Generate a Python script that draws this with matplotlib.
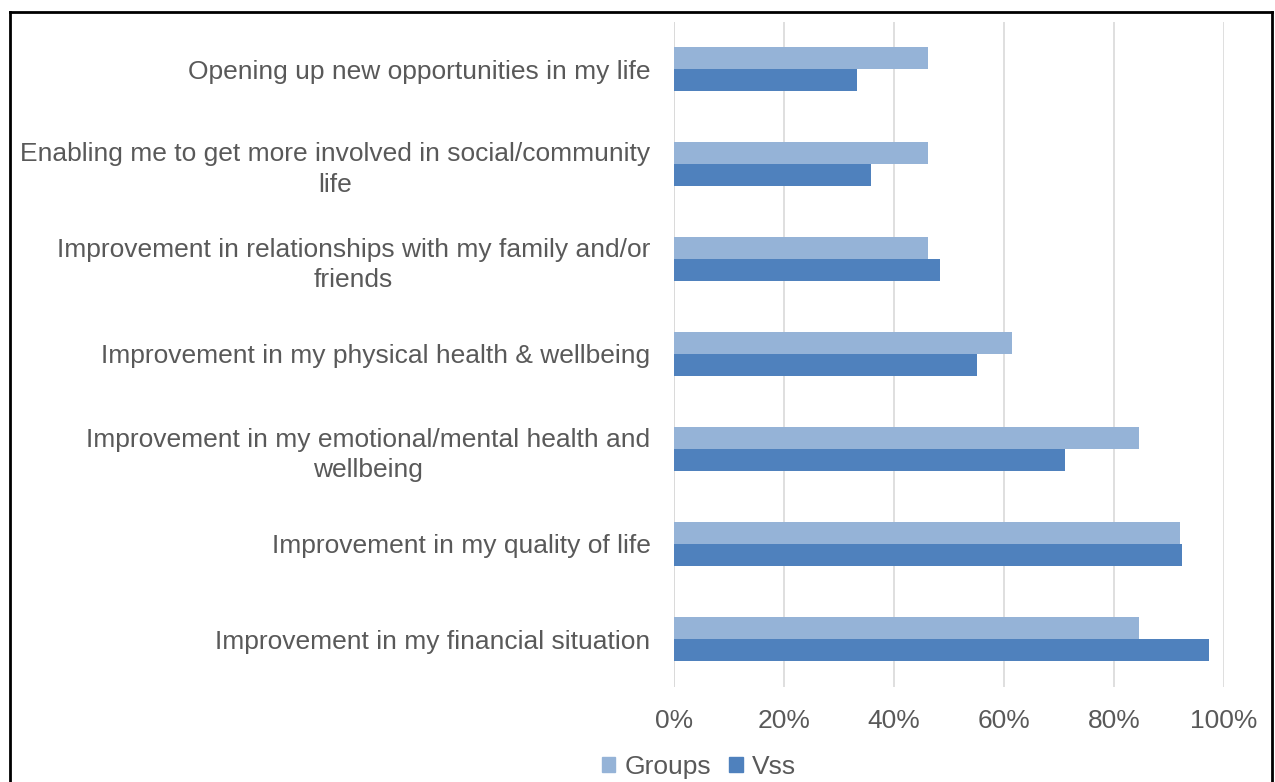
import matplotlib
matplotlib.use("Agg")
import matplotlib.pyplot as plt
from matplotlib.lines import Line2D
from matplotlib.patches import Patch
import numpy as np

categories = [
    "Improvement in my financial situation",
    "Improvement in my quality of life",
    "Improvement in my emotional/mental health and\nwellbeing",
    "Improvement in my physical health & wellbeing",
    "Improvement in relationships with my family and/or\nfriends",
    "Enabling me to get more involved in social/community\nlife",
    "Opening up new opportunities in my life",
]
groups = [84.6, 92.0, 84.6, 61.5, 46.2, 46.2, 46.2]
vss = [97.2, 92.4, 71.0, 55.0, 48.4, 35.8, 33.3]
xticks = [0, 20, 40, 60, 80, 100]
xticklabels = ["0%", "20%", "40%", "60%", "80%", "100%"]

c_groups = "#95B3D7"
c_vss = "#4F81BD"
txt = "#595959"
fs = 19

plt.rcParams['font.family'] = ['Liberation Sans', 'DejaVu Sans']

fig = plt.figure(figsize=(12.75, 7.82), dpi=100)
ax = fig.add_axes([674/1275, 1-686.5/782, (1224-674)/1275, (686.5-21.5)/782])

y = np.arange(len(categories))
h = 0.235
ax.barh(y + h/2, groups, height=h, color=c_groups, label="Groups", zorder=3)
ax.barh(y - h/2, vss, height=h, color=c_vss, label="Vss", zorder=3)

ax.set_xlim(0, 100)
ax.set_ylim(-0.5, len(categories) - 0.5)
ax.set_xticks(xticks)
ax.set_xticklabels(xticklabels, fontsize=fs, color=txt)
ax.set_yticks(y)
ax.set_yticklabels(categories, fontsize=fs, color=txt, multialignment='center',
                   linespacing=1.35)
ax.tick_params(axis='both', length=0)
ax.tick_params(axis='y', pad=17)
ax.tick_params(axis='x', pad=16)
ax.grid(axis='x', color="#D9D9D9", linewidth=1.2, zorder=0)
for s in ax.spines.values():
    s.set_visible(False)
ax.axvline(0, color="#D9D9D9", linewidth=1.2, zorder=1)

handles = [Patch(color=c_groups, label="Groups"), Patch(color=c_vss, label="Vss")]
fig.legend(handles=handles, loc='center', bbox_to_anchor=(699/1275, 1-767/782),
           ncol=2, frameon=False, fontsize=fs, handlelength=0.5, handleheight=0.5,
           handletextpad=0.35, columnspacing=0.7, labelcolor=txt)

# outer frame
fig.add_artist(Line2D([10/1275, 10/1275], [0, 1-12/782], color='black', linewidth=2, transform=fig.transFigure))
fig.add_artist(Line2D([1272/1275, 1272/1275], [0, 1-12/782], color='black', linewidth=2, transform=fig.transFigure))
fig.add_artist(Line2D([10/1275, 1272/1275], [1-12/782, 1-12/782], color='black', linewidth=2, transform=fig.transFigure))

fig.savefig("out.png", dpi=100, facecolor='white')
